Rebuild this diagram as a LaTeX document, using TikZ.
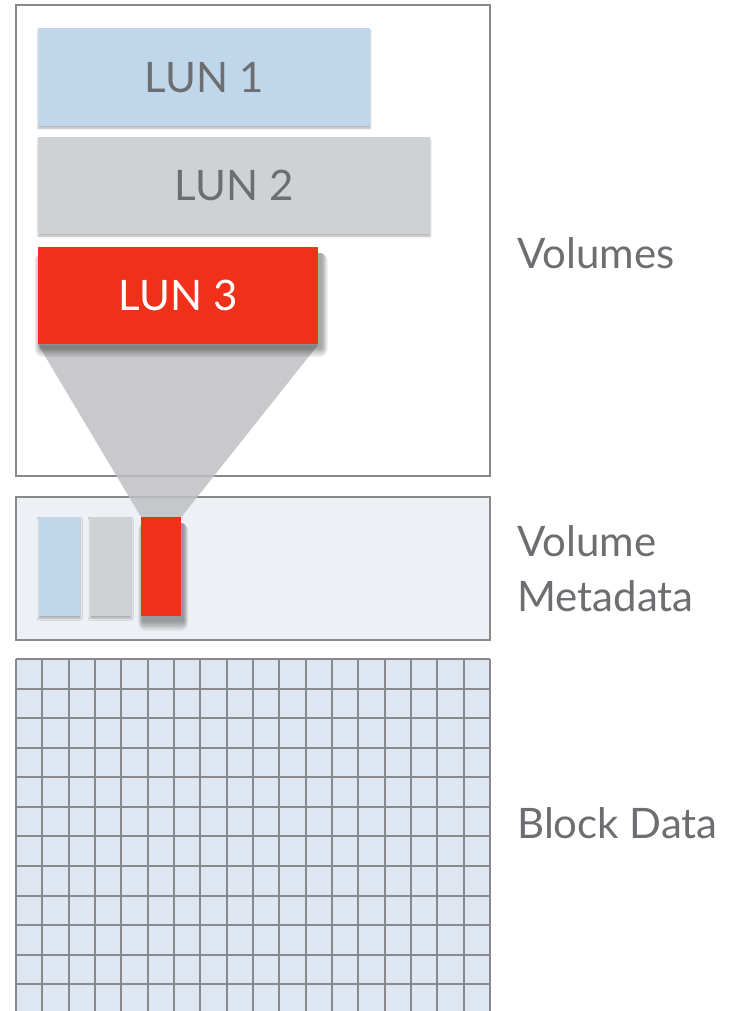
\documentclass[tikz,border=0pt]{standalone}
\usepackage{fontspec}
\setmainfont{Lato}
\usetikzlibrary{shadows.blur}

\definecolor{lunblue}{HTML}{C0D7EB}
\definecolor{lungray}{HTML}{CFD2D4}
\definecolor{lunred}{HTML}{EF3119}
\definecolor{textgray}{HTML}{6D6E71}
\definecolor{linegray}{HTML}{87898C}
\definecolor{metafill}{HTML}{EDF1F5}
\definecolor{gridfill}{HTML}{DEE6F2}
\definecolor{funnelgray}{HTML}{BFC0C3}

\pgfdeclarelayer{back}
\pgfdeclarelayer{mid}
\pgfdeclarelayer{shade}
\pgfsetlayers{back,mid,shade,main}

\tikzset{
	panel/.style={draw=linegray, line width=2pt, inner sep=0pt, anchor=north west},
	lunbox/.style={inner sep=0pt, anchor=north west, text=textgray, font=\fontsize{42}{50}\selectfont},
	softshadow/.style={blur shadow={shadow xshift=0pt, shadow yshift=-2pt, shadow blur radius=2pt, shadow opacity=30}},
	metabar/.style={inner sep=0pt, anchor=north west, minimum width=41pt, minimum height=99pt},
	shadelayer/.style={black, opacity=0.05, rounded corners=#1pt},
	lbl/.style={inner sep=0pt, text=textgray, font=\fontsize{42}{55}\selectfont},
}

\begin{document}
\begin{tikzpicture}[x=1pt, y=1pt]
	\useasboundingbox (0,0) rectangle (731,-1011);
	\node[lunbox, softshadow, fill=lunblue, minimum width=332pt, minimum height=98pt] (lun1) at (38,-28) {LUN 1};
	\node[lunbox, softshadow, fill=lungray, minimum width=392pt, minimum height=97pt] (lun2) at (38,-137) {LUN 2};
	\node[lunbox, fill=lunred, text=white, minimum width=280pt, minimum height=97pt] (lun3) at (38,-247) {LUN 3};
	\node[metabar, softshadow, fill=lunblue] (meta1) at (39,-517) {};
	\node[metabar, softshadow, fill=lungray] (meta2) at (90,-517) {};
	\node[metabar, fill=lunred, minimum width=40pt] (meta3) at (141,-517) {};
	\begin{pgfonlayer}{back}
		\draw[linegray, line width=2pt] (16,-5) rectangle (490,-476);
		\draw[linegray, line width=2pt, fill=metafill] (16,-497) rectangle (490,-640);
		\fill[gridfill] (16,-659) rectangle (490,-1020);
		\foreach \j in {0,...,12}
			\draw[linegray, line width=2pt] (16,-659-\j*29.57) -- (490,-659-\j*29.57);
		\foreach \i in {0,...,18}
			\draw[linegray, line width=2pt] (16+\i*26.333,-659) -- (16+\i*26.333,-1020);
	\end{pgfonlayer}
	\begin{pgfonlayer}{mid}
		\fill[funnelgray, opacity=0.85] (lun3.south west) -- (lun3.south east) -- (meta3.north east) -- (meta3.north west) -- cycle;
	\end{pgfonlayer}
	\begin{pgfonlayer}{shade}
		\foreach \k in {1,...,8} {
			\fill[shadelayer=\k] ([xshift={(3-0.8*\k)*1pt}, yshift=-6pt]lun3.north west) rectangle ([xshift={(3+0.8*\k)*1pt}, yshift={(-3-1.2*\k)*1pt}]lun3.south east);
			\fill[shadelayer=\k] ([xshift={(2-0.6*\k)*1pt}, yshift=-6pt]meta3.north west) rectangle ([xshift={(2+0.6*\k)*1pt}, yshift={(-4-1.3*\k)*1pt}]meta3.south east);
		}
	\end{pgfonlayer}
	\node[lbl, anchor=base west] (vollbl) at (517,-268) {Volumes};
	\node[lbl, anchor=west, align=left] (metalbl) at (517,-569) {Volume\\Metadata};
	\node[lbl, anchor=base west] (blocklbl) at (517,-838) {Block Data};
\end{tikzpicture}
\end{document}
